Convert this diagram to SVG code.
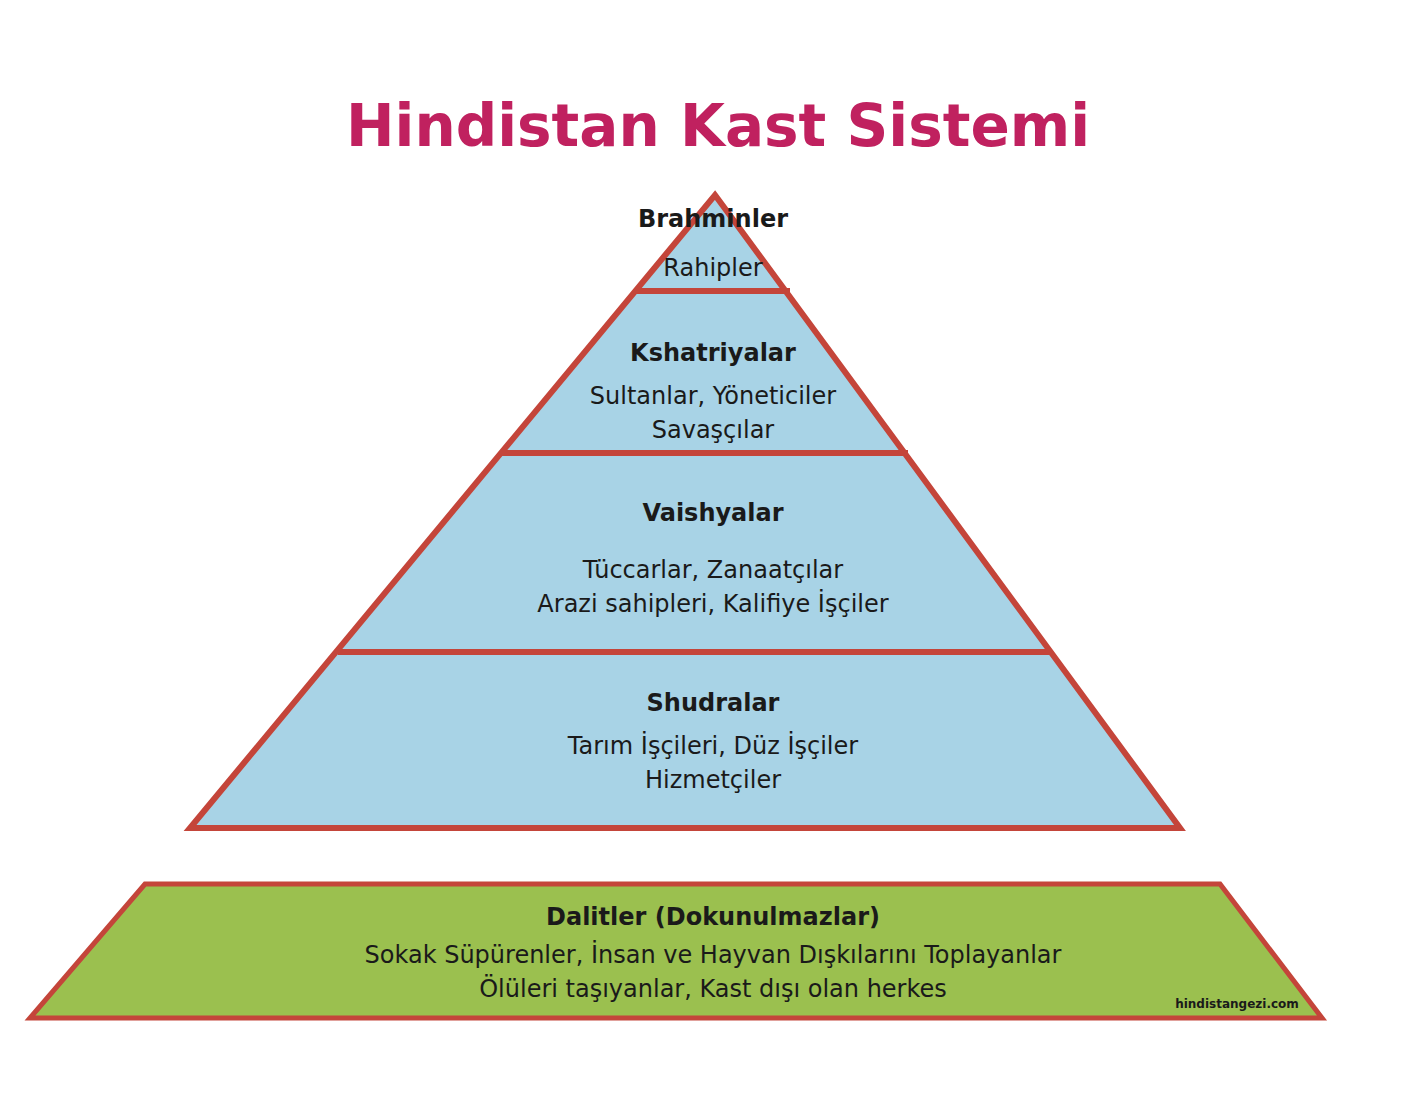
<svg xmlns="http://www.w3.org/2000/svg" width="1417" height="1112" viewBox="0 0 1417 1112">
<style>
.t{font-family:"DejaVu Sans",Verdana,sans-serif;font-size:24px;fill:#1a1a1a;text-anchor:middle}
.b{font-weight:bold}
.ln{stroke:#c4453a;stroke-width:6;fill:none}
</style>
<rect width="1417" height="1112" fill="#fff"/>
<text x="718" y="146" style="font-family:'DejaVu Sans',Verdana,sans-serif;font-weight:bold;font-size:58px;fill:#c0215f;text-anchor:middle">Hindistan Kast Sistemi</text>
<g id="pyramid">
<polygon points="715,195 1180,828 190,828" fill="#a8d3e6" stroke="#c4453a" stroke-width="6" stroke-linejoin="miter"/>
</g>
<g id="connectors">
<line class="ln" x1="635" y1="291" x2="790" y2="291"/>
<line class="ln" x1="500" y1="453" x2="908" y2="453"/>
<line class="ln" x1="338" y1="652" x2="1050" y2="652"/>
</g>
<g id="brahminler">
<text class="t b" x="713" y="227">Brahminler</text>
<text class="t" x="713" y="276">Rahipler</text>
</g>
<g id="kshatriyalar">
<text class="t b" x="713" y="361">Kshatriyalar</text>
<text class="t" x="713" y="404">Sultanlar, Yöneticiler</text>
<text class="t" x="713" y="438">Savaşçılar</text>
</g>
<g id="vaishyalar">
<text class="t b" x="713" y="521">Vaishyalar</text>
<text class="t" x="713" y="578">Tüccarlar, Zanaatçılar</text>
<text class="t" x="713" y="612">Arazi sahipleri, Kalifiye İşçiler</text>
</g>
<g id="shudralar">
<text class="t b" x="713" y="711">Shudralar</text>
<text class="t" x="713" y="754">Tarım İşçileri, Düz İşçiler</text>
<text class="t" x="713" y="788">Hizmetçiler</text>
</g>
<g id="dalitler">
<polygon points="145,884 1220,884 1322,1018 30,1018" fill="#9bc04f" stroke="#c4453a" stroke-width="5"/>
<text class="t b" x="713" y="925">Dalitler (Dokunulmazlar)</text>
<text class="t" x="713" y="963">Sokak Süpürenler, İnsan ve Hayvan Dışkılarını Toplayanlar</text>
<text class="t" x="713" y="997">Ölüleri taşıyanlar, Kast dışı olan herkes</text>
<text x="1237" y="1008" style="font-family:'DejaVu Sans',Verdana,sans-serif;font-weight:bold;font-size:12px;fill:#1a1a1a;text-anchor:middle">hindistangezi.com</text>
</g>
</svg>
